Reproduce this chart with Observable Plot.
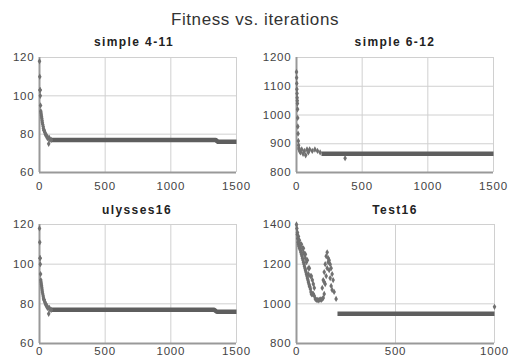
<!DOCTYPE html>
<html>
<head>
<meta charset="utf-8">
<script src="https://cdn.jsdelivr.net/npm/d3@7"></script>
<script src="https://cdn.jsdelivr.net/npm/@observablehq/plot@0.6"></script>
<style>
  html, body { margin: 0; padding: 0; background: #fff; }
  #wrap { position: relative; width: 510px; height: 362px; overflow: hidden; font-family: "Liberation Sans", Arial, sans-serif; }
  .t { position: absolute; text-align: center; color: #222; white-space: nowrap; }
  .main { font-size: 17px; letter-spacing: 0.6px; left: 0; width: 510px; top: 10px; color: #333; }
  .ptitle { font-size: 12px; font-weight: bold; letter-spacing: 1.4px; }
  .panel { position: absolute; }
</style>
</head>
<body>
<div id="wrap">
  <div class="t main">Fitness vs. iterations</div>
</div>
<script>
// Panel titles
const titles = ["simple 4-11", "simple 6-12", "ulysses16", "Test16"];

// simple 4-11: early scattered iterations
const a_x = [0, 2, 4, 5, 6, 8, 10, 12, 14, 16, 18, 20, 22, 25, 28, 30, 33, 36, 40, 44, 48, 52, 56, 60, 65, 70, 75, 80, 90];
const a_y = [118, 110, 103, 103, 100, 95, 92, 91, 90, 89, 88, 87, 86, 85, 84, 83, 82, 82, 81, 80, 80, 79, 79, 78, 78, 75, 78, 77, 77];
// simple 4-11: plateau breakpoints
const a_px = [90, 1340, 1360, 1500];
const a_py = [77, 77, 76, 76];

// simple 6-12
const b_x = [0, 1, 2, 3, 4, 5, 6, 7, 8, 9, 10, 12, 14, 16, 18, 20, 25, 30, 40, 50, 60, 70, 80, 90, 100, 120, 140, 160, 180, 370];
const b_y = [1150, 1130, 1110, 1090, 1075, 1060, 1050, 1040, 1020, 990, 960, 935, 910, 895, 885, 880, 875, 870, 880, 865, 875, 860, 880, 870, 880, 875, 880, 875, 870, 850];
const b_px = [190, 1500];
const b_py = [865, 865];

// ulysses16
const c_x = [0, 2, 4, 5, 6, 8, 10, 12, 14, 16, 18, 20, 22, 25, 28, 30, 33, 36, 40, 44, 48, 52, 56, 60, 65, 70, 75, 80, 90];
const c_y = [118, 111, 103, 103, 100, 95, 92, 91, 90, 89, 88, 87, 86, 85, 84, 83, 82, 82, 81, 80, 80, 79, 79, 78, 78, 75, 78, 77, 77];
const c_px = [90, 1330, 1350, 1500];
const c_py = [77, 77, 76, 76];

// Test16
const d_x = [0, 2, 4, 6, 8, 10, 12, 15, 18, 20, 22, 25, 28, 30, 33, 35, 38, 40, 43, 45, 48, 50, 53, 55, 58, 60, 63, 65, 68, 70, 73, 75, 78, 80, 85,
             20, 30, 40, 50, 60, 70, 45, 35, 90, 95, 100, 105, 110, 115, 120, 125, 130, 135, 140,
             5, 10, 15, 25, 35, 45, 55, 65, 75, 85, 90, 60, 80,
             130, 135, 140, 145, 150, 155, 160, 165, 170, 175, 180, 185, 145, 150, 155, 160, 165, 170, 175, 180, 140, 190, 200, 1000];
const d_y = [1400, 1380, 1350, 1330, 1310, 1300, 1290, 1280, 1285, 1270, 1260, 1250, 1240, 1230, 1220, 1210, 1200, 1190, 1180, 1170, 1160, 1150, 1140, 1130, 1120, 1110, 1100, 1090, 1085, 1075, 1060, 1050, 1048, 1050, 1050,
             1300, 1280, 1250, 1210, 1180, 1140, 1230, 1260, 1040, 1025, 1020, 1020, 1018, 1020, 1022, 1020, 1025, 1030, 1050,
             1360, 1340, 1320, 1300, 1280, 1250, 1220, 1180, 1140, 1100, 1080, 1150, 1120,
             1080, 1120, 1160, 1200, 1240, 1260, 1230, 1220, 1200, 1180, 1150, 1120, 1100, 1140, 1180, 1210, 1170, 1130, 1090, 1070, 1110, 1060, 1025, 985];
const d_px = [207, 1000];
const d_py = [950, 950];

const panels = [
  {x: a_x, y: a_y, px: a_px, py: a_py, xd: [0, 1500], xt: [0, 500, 1000, 1500], yd: [60, 120], yt: [60, 80, 100, 120],
   left: 0, top: 50, w: 255, h: 145, ml: 39, mr: 19, mt: 7, mb: 23, pad: 9, tx: 134, ty: 35},
  {x: b_x, y: b_y, px: b_px, py: b_py, xd: [0, 1500], xt: [0, 500, 1000, 1500], yd: [800, 1200], yt: [800, 900, 1000, 1100, 1200],
   left: 255, top: 50, w: 255, h: 145, ml: 41, mr: 17, mt: 7, mb: 23, pad: 9, tx: 395, ty: 35},
  {x: c_x, y: c_y, px: c_px, py: c_py, xd: [0, 1500], xt: [0, 500, 1000, 1500], yd: [60, 120], yt: [60, 80, 100, 120],
   left: 0, top: 217, w: 255, h: 145, ml: 39, mr: 19, mt: 7, mb: 19, pad: 3, tx: 137, ty: 203},
  {x: d_x, y: d_y, px: d_px, py: d_py, xd: [0, 1000], xt: [0, 500, 1000], yd: [800, 1400], yt: [800, 1000, 1200, 1400],
   left: 255, top: 217, w: 255, h: 145, ml: 41, mr: 16, mt: 7, mb: 19, pad: 3, tx: 395, ty: 203}
];

const wrap = document.getElementById("wrap");
panels.forEach((p, i) => {
  const pts = p.x.map((v, k) => ({x: v, y: p.y[k]}));
  const plateau = p.px.map((v, k) => ({x: v, y: p.py[k]}));
  const chart = Plot.plot({
    width: p.w, height: p.h,
    marginLeft: p.ml, marginRight: p.mr, marginTop: p.mt, marginBottom: p.mb,
    style: {fontFamily: "'Liberation Sans', Arial, sans-serif", fontSize: "11.5px", letterSpacing: "0.8px", color: "#444", background: "transparent", overflow: "visible"},
    x: {domain: p.xd, ticks: p.xt, tickSize: 0, tickPadding: p.pad, tickFormat: d => String(d), label: null},
    y: {domain: p.yd, ticks: p.yt, tickSize: 0, tickPadding: 5, tickFormat: d => String(d), label: null},
    marks: [
      Plot.ruleX(p.xt, {stroke: "#d0d0d0", strokeWidth: 1}),
      Plot.ruleY(p.yt, {stroke: "#d0d0d0", strokeWidth: 1}),
      Plot.ruleX([p.xd[0]], {stroke: "#999", strokeWidth: 2}),
      Plot.ruleY([p.yd[0]], {stroke: "#999", strokeWidth: 2}),
      Plot.line(plateau, {x: "x", y: "y", stroke: "#5e5e5e", strokeWidth: 4.5, strokeLinecap: "butt"}),
      Plot.dot(pts, {x: "x", y: "y", symbol: "diamond", r: 1.9, fill: "#707070", stroke: "none"})
    ]
  });
  chart.classList.add("panel");
  chart.style.left = p.left + "px";
  chart.style.top = p.top + "px";
  wrap.appendChild(chart);
  const t = document.createElement("div");
  t.className = "t ptitle";
  t.textContent = titles[i];
  t.style.left = (p.tx - 60) + "px";
  t.style.width = "120px";
  t.style.top = p.ty + "px";
  wrap.appendChild(t);
});
</script>
</body>
</html>
